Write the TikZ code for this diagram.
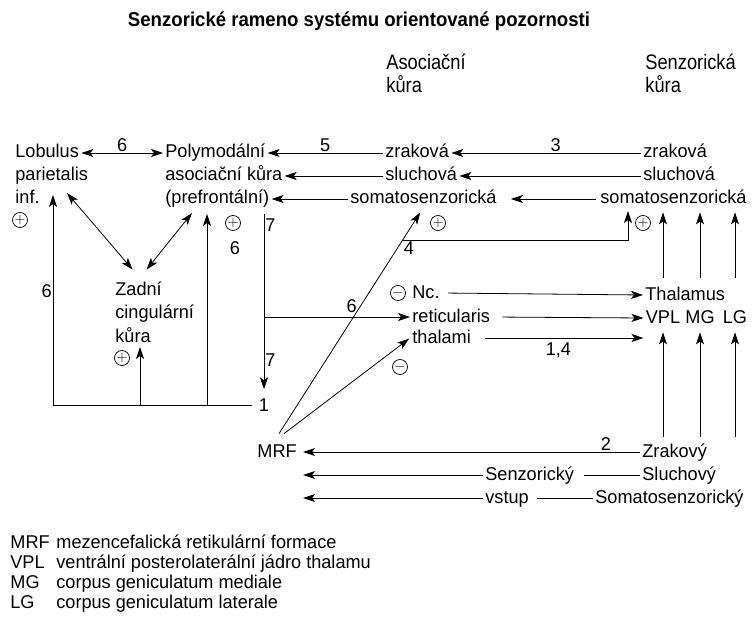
\documentclass[tikz,border=0pt]{standalone}
\usepackage{fontspec}
\setmainfont{Liberation Sans}[FakeStretch=0.98]
\newfontfamily\headfont{Liberation Sans}[FakeStretch=0.93]
\newfontfamily\colfont{Liberation Sans}[FakeStretch=0.87]
\usetikzlibrary{arrows.meta,positioning,calc}

\tikzset{
  txt/.style={anchor=base west,inner xsep=2pt,inner ysep=0pt,text height=13pt,text depth=3pt},
  head/.style={txt,font=\colfont\fontsize{21}{24}\selectfont},
  num/.style={inner sep=1pt},
  sgn/.style={circle,draw,inner sep=0pt,minimum size=15pt,line width=.7pt,font=\fontsize{15}{15}\selectfont},
}

\begin{document}
\begin{tikzpicture}[x=1pt,y=-1pt,>={Stealth[length=12pt,width=8pt,inset=3pt]},line width=.8pt,font=\fontsize{18.5}{22}\selectfont]
\useasboundingbox (0,0) rectangle (753,623);

\node[anchor=base,inner sep=0pt,font=\headfont\bfseries\fontsize{20}{24}\selectfont] (title) at (359,27) {Senzorické rameno systému orientované pozornosti};
\node[head] (asoc1) at (384,70) {Asociační};
\node[head] (asoc2) at (384,93) {kůra};
\node[head] (senz1) at (643,70) {Senzorická};
\node[head] (senz2) at (643,93) {kůra};

% korove oblasti
\node[txt] (lob1) at (13,158) {Lobulus};
\node[txt] (lob2) at (13,181) {parietalis};
\node[txt] (lob3) at (13,204) {inf.};
\node[txt] (poly1) at (163,158) {Polymodální};
\node[txt] (poly2) at (163,181) {asociační kůra};
\node[txt] (poly3) at (163,204) {(prefrontální)};
\node[txt] (zrakA) at (383,158) {zraková};
\node[txt] (sluchA) at (383,181) {sluchová};
\node[txt] (somA) at (348,204) {somatosenzorická};
\node[txt] (zrakS) at (641,158) {zraková};
\node[txt] (sluchS) at (641,181) {sluchová};
\node[txt] (somS) at (598,204) {somatosenzorická};
\node[txt] (zad1) at (113,295) {Zadní};
\node[txt] (zad2) at (113,318) {cingulární};
\node[txt] (zad3) at (113,342) {kůra};

% podkori
\node[txt] (mrf) at (255,457) {MRF};
\node[txt] (nc) at (410,298) {Nc.};
\node[txt] (ret) at (410,322) {reticularis};
\node[txt] (thal3) at (410,343) {thalami};
\node[txt] (thalam) at (643,300) {Thalamus};
\node[txt,anchor=base] (vpl) at (663,323) {VPL};
\node[txt,anchor=base] (mg) at (700,323) {MG};
\node[txt,anchor=base] (lg) at (735,323) {LG};
\node[txt] (zrakovy) at (640,457) {Zrakový};
\node[txt] (sluchovy) at (640,480) {Sluchový};
\node[txt] (somatoB) at (593,503) {Somatosenzorický};
\node[txt] (senz) at (483,480) {Senzorický};
\node[txt] (vstup) at (483,503) {vstup};

\node[sgn] (plob) at (20,220) {$+$};
\node[sgn] (ppf) at (233,223) {$+$};
\node[sgn] (pzad) at (122,358) {$+$};
\node[sgn] (psom) at (438,223) {$+$};
\node[sgn] (psen) at (643,223) {$+$};
\node[sgn] (mnc) at (398,293) {$-$};
\node[sgn] (mth) at (400,367) {$-$};
\node[num] (n6pf) at (235,248) {6};

% horni spoje
\draw[<->] (lob1.east) -- node[num,above]{6} (poly1.west);
\draw[->] (zrakA.west) -- node[num,above]{5} (poly1.east);
\draw[->] (sluchA.west) -- (poly2.east);
\draw[->] (somA.west) -- (poly3.east);
\draw[->] (zrakS.west) -- node[num,above,pos=.45]{3} (zrakA.east);
\draw[->] (sluchS.west) -- (sluchA.east);
\draw[->,shorten <=2pt,shorten >=12pt] (somS.west) -- (somA.east);

% svisla 7 a smycka dole
\coordinate (p7) at (264,214);
\node[num] (one) at (264,405) {1};
\draw[->,shorten >=8pt] (p7) -- node[num,right,pos=.06]{7} node[num,right,pos=.8]{7} (one.north);
\draw[->] (p7 |- ret.west) -- node[num,above=3pt,pos=.6]{6} (ret.west);
\coordinate (lobup) at (53,195);
\coordinate (zup) at (140,347);
\coordinate (pfup) at (207,214);
\draw[->,shorten <=6pt] (one.west) -| node[num,left,pos=.77]{6} (lobup);
\draw[->] (zup |- one.west) -- (zup);
\draw[->] (pfup |- one.west) -- (pfup);
\coordinate (lobdn) at (67,193);
\coordinate (pfdn) at (192,213);
\draw[<->] (lobdn) -- ([xshift=-6pt,yshift=12pt]zad1.north);
\draw[<->] (pfdn) -- ([xshift=8pt,yshift=12pt]zad1.north);

% MRF
\draw[->,shorten >=6pt] ([xshift=2pt,yshift=10pt]mrf.north) -- coordinate[pos=.855] (d4) (somA.south);
\draw[->,shorten >=1pt] ([xshift=7pt,yshift=10pt]mrf.north) -- (thal3.west);
\coordinate (s4up) at (628,211);
\draw[->] (d4) -| node[num,below right,pos=0]{4} (s4up);

% thalamus
\draw[->,shorten <=6pt] (nc.east) -- (thalam.west);
\draw[->,shorten <=10pt] (ret.east) -- (vpl.west);
\draw[->,shorten <=12pt] (thal3.east) -- node[num,below=3pt,pos=.5]{1,4} (thal3.east -| vpl.west);
\foreach \c in {vpl,mg,lg} {
  \draw[->,shorten <=9pt,shorten >=5pt] (\c |- thalam.north) -- (\c |- somS.south);
  \draw[->,shorten <=7pt,shorten >=6pt] (\c |- zrakovy.north) -- (\c.south);
}

% smyslove vstupy
\draw[->,shorten >=4pt] (zrakovy.west) -- node[num,above,pos=.1]{2} (mrf.east);
\draw[shorten >=8pt] (sluchovy.west) -- (senz.east);
\draw[->,shorten >=4pt] (senz.west) -- (senz.west -| mrf.east);
\draw[shorten >=6pt] (somatoB.west) -- (vstup.east);
\draw[->,shorten >=4pt] (vstup.west) -- (vstup.west -| mrf.east);

% legenda
\node[txt] (k1) at (8,548) {MRF};
\node[txt] (k2) at (8,568) {VPL};
\node[txt] (k3) at (8,588) {MG};
\node[txt] (k4) at (8,608) {LG};
\node[txt] (v1) at (54,548) {mezencefalická retikulární formace};
\node[txt] (v2) at (54,568) {ventrální posterolaterální jádro thalamu};
\node[txt] (v3) at (54,588) {corpus geniculatum mediale};
\node[txt] (v4) at (54,608) {corpus geniculatum laterale};
\end{tikzpicture}
\end{document}
